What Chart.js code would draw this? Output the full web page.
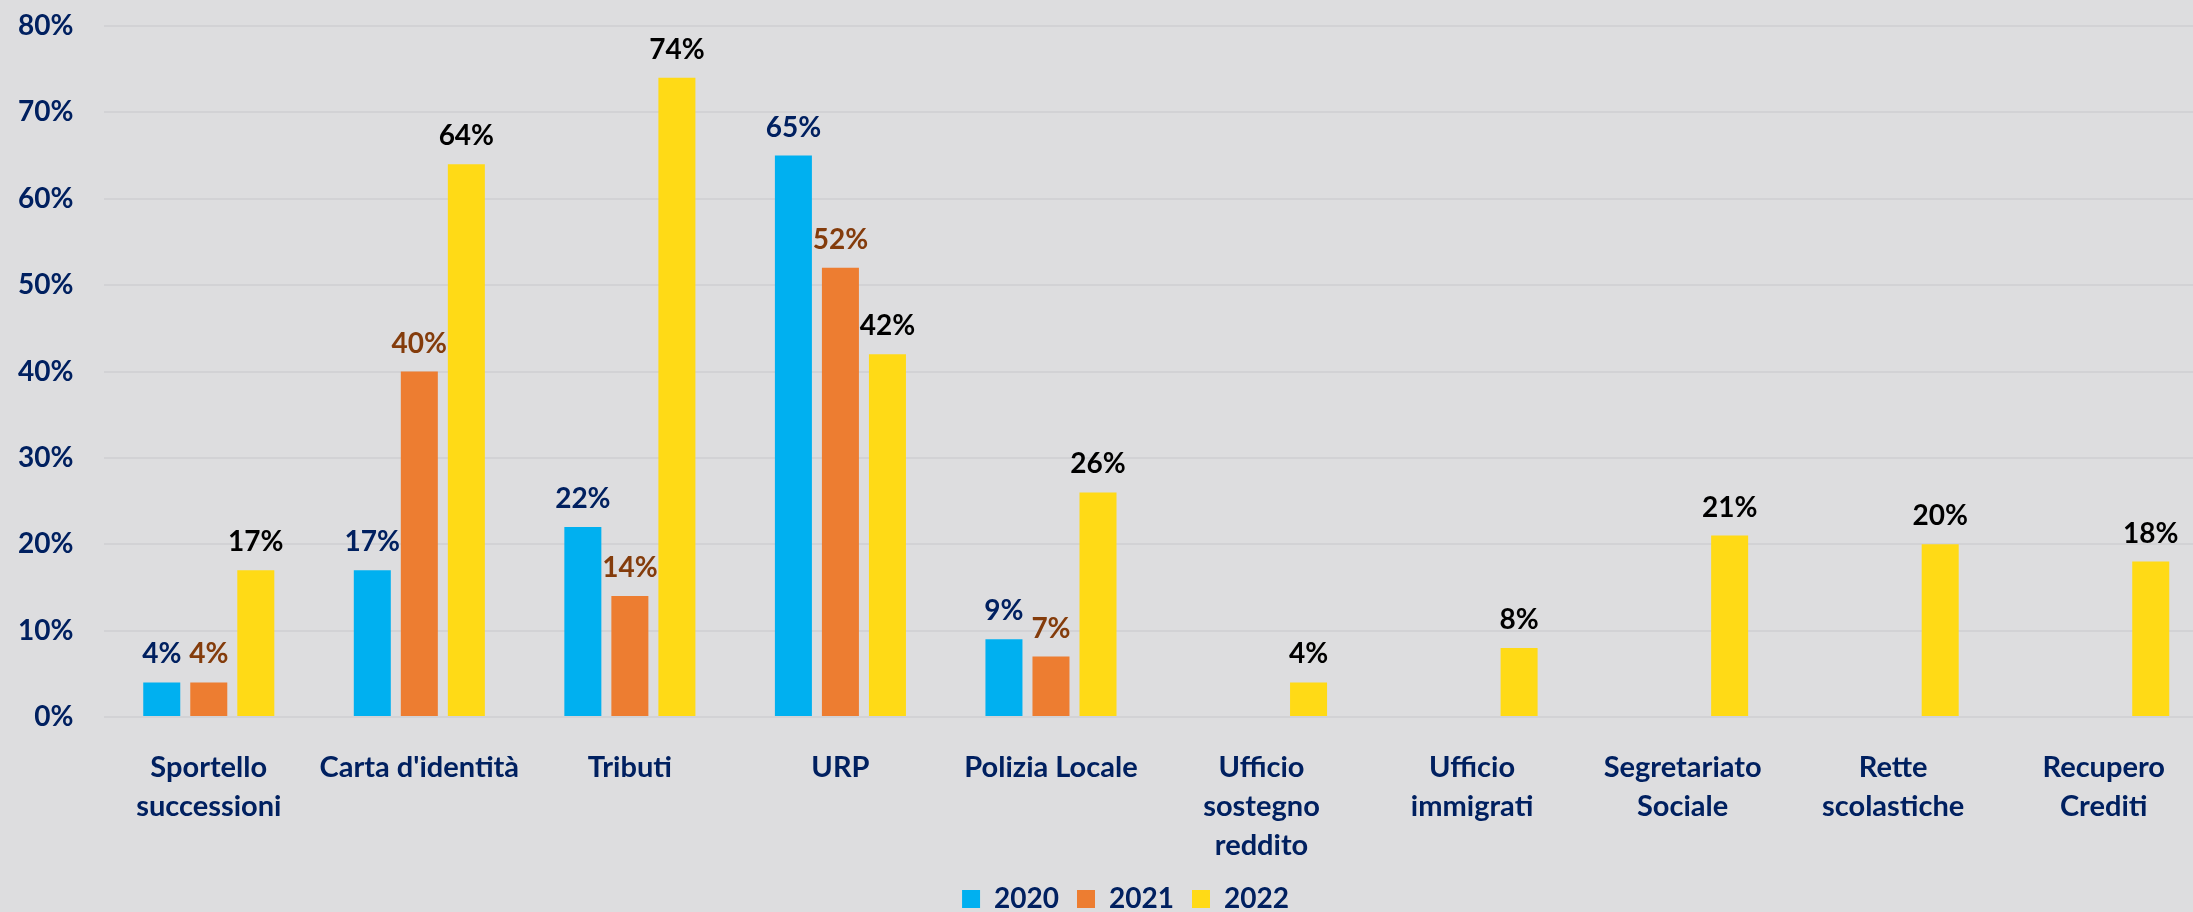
<!DOCTYPE html>
<html lang="it">
<head>
<meta charset="utf-8">
<title>Servizi</title>
<script src="https://cdn.jsdelivr.net/npm/chart.js@4.4.1/dist/chart.umd.min.js"></script>
<style>
    html, body {
        margin: 0;
        padding: 0;
        overflow: hidden;
        background: #DDDDDF;
    }
    #chart-box {
        position: relative;
        width: 2251px;
        height: 923px;
    }
</style>
</head>
<body>
<div id="chart-box"><canvas id="chart"></canvas></div>
<script>
const categories = [
    ['Sportello', 'successioni'],
    "Carta d'identità",
    'Tributi',
    'URP',
    'Polizia Locale',
    ['Ufficio', 'sostegno', 'reddito'],
    ['Ufficio', 'immigrati'],
    ['Segretariato', 'Sociale'],
    ['Rette', 'scolastiche'],
    ['Recupero', 'Crediti']
];
const years = ['2020', '2021', '2022'];
const values2020 = [4, 17, 22, 65, 9, null, null, null, null, null];
const values2021 = [4, 40, 14, 52, 7, null, null, null, null, null];
const values2022 = [17, 64, 74, 42, 26, 4, 8, 21, 20, 18];
const yTicks = [0, 10, 20, 30, 40, 50, 60, 70, 80];

const NAVY = '#002060';
const FONT = 'Lato';

// value labels above each bar, one colour per year
const valueLabels = {
    id: 'valueLabels',
    afterDatasetsDraw(chart) {
        const ctx = chart.ctx;
        ctx.save();
        ctx.font = 'bold 28px ' + FONT;
        ctx.textAlign = 'center';
        ctx.textBaseline = 'middle';
        chart.data.datasets.forEach((ds, i) => {
            const meta = chart.getDatasetMeta(i);
            ctx.fillStyle = ds.labelColor;
            meta.data.forEach((bar, j) => {
                const v = ds.data[j];
                if (v === null || v === undefined) return;
                ctx.fillText(v + '%', bar.x, bar.y - 28);
            });
        });
        ctx.restore();
    }
};

function makeChart(canvas) {
    return new Chart(canvas, {
        type: 'bar',
        data: {
            labels: categories,
            datasets: [
                { label: years[0], data: values2020, backgroundColor: '#00B0F0', labelColor: NAVY },
                { label: years[1], data: values2021, backgroundColor: '#ED7D31', labelColor: '#843C0C' },
                { label: years[2], data: values2022, backgroundColor: '#FFDA16', labelColor: '#000000' }
            ]
        },
        options: {
            responsive: true,
            maintainAspectRatio: false,
            animation: false,
            layout: {
                padding: { left: 0, right: 0, top: 26, bottom: 0 }
            },
            datasets: {
                bar: {
                    categoryPercentage: 0.67,
                    barPercentage: 0.787,
                    borderWidth: 0
                }
            },
            scales: {
                x: {
                    grid: { display: false },
                    border: { display: false },
                    ticks: {
                        color: NAVY,
                        font: { family: FONT, size: 29, weight: 'bold', lineHeight: 1.345 },
                        padding: 23,
                        maxRotation: 0,
                        autoSkip: false
                    },
                    afterFit(scale) { scale.height = 150; }
                },
                y: {
                    min: 0,
                    max: 80,
                    afterBuildTicks(scale) {
                        scale.ticks = yTicks.map(v => ({ value: v }));
                    },
                    grid: { color: '#D2D2D5', lineWidth: 2, drawTicks: false },
                    border: { display: false },
                    ticks: {
                        color: NAVY,
                        font: { family: FONT, size: 28, weight: 'bold' },
                        padding: 30,
                        callback: v => v + '%'
                    },
                    afterFit(scale) {
                        scale.width = 103.5;
                        // the label gap should not push the plot top down
                        scale.paddingTop = 0;
                        scale.paddingBottom = 0;
                    }
                },
                // empty strip on the right so the legend sits a bit right of centre
                spacer: {
                    type: 'linear',
                    position: 'right',
                    grid: { display: false },
                    border: { display: false },
                    ticks: { display: false },
                    afterFit(scale) { scale.width = 42; }
                }
            },
            plugins: {
                legend: {
                    position: 'bottom',
                    labels: {
                        color: NAVY,
                        font: { family: FONT, size: 28, weight: 'bold' },
                        boxWidth: 18,
                        boxHeight: 18,
                        padding: 18
                    }
                },
                tooltip: { enabled: false }
            }
        },
        plugins: [valueLabels]
    });
}

window.onload = function() {
    makeChart(document.getElementById('chart'));
};
</script>
</body>
</html>
